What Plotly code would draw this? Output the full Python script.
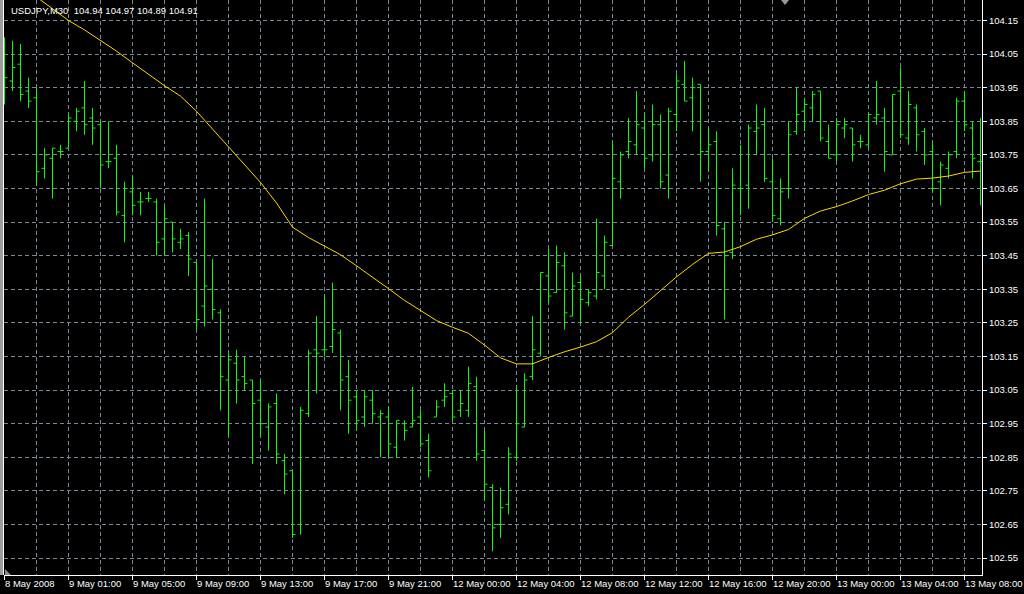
import plotly.graph_objects as go

# ---- data (USDJPY, M30 bars) ----
opens = [104.00, 103.97, 104.02, 103.94, 103.92, 103.71, 103.74, 103.76, 103.77, 103.85,
         103.89, 103.86, 103.84, 103.73, 103.74, 103.57, 103.64, 103.61, 103.62, 103.61,
         103.50, 103.55, 103.49, 103.51, 103.43, 103.30, 103.35, 103.28, 103.08, 103.13,
         103.09, 103.08, 103.02, 102.94, 103.01, 102.84, 102.81, 102.65, 102.98, 103.17,
         103.17, 103.18, 103.22, 103.09, 103.03, 102.97, 103.02, 102.97, 102.97, 102.88,
         102.95, 102.94, 102.97, 102.90, 102.97, 103.02, 103.04, 102.99, 102.99, 103.06,
         102.87, 102.76, 102.65, 102.71, 102.85, 102.94, 103.09, 103.16, 103.39, 103.34,
         103.42, 103.27, 103.37, 103.31, 103.33, 103.39, 103.48, 103.67, 103.76, 103.78,
         103.83, 103.75, 103.84, 103.69, 103.87, 103.96, 103.92, 103.96, 103.76, 103.79,
         103.53, 103.46, 103.65, 103.66, 103.82, 103.84, 103.67, 103.56, 103.65, 103.82,
         103.88, 103.89, 103.94, 103.79, 103.75, 103.83, 103.83, 103.79, 103.78, 103.86,
         103.86, 103.75, 103.94, 103.80, 103.89, 103.82, 103.76, 103.67, 103.71, 103.76,
         103.91, 103.83, 103.73]
highs = [104.10, 104.09, 104.08, 103.98, 103.95, 103.77, 103.77, 103.78, 103.87, 103.89,
         103.97, 103.89, 103.85, 103.85, 103.78, 103.67, 103.69, 103.64, 103.64, 103.62,
         103.60, 103.55, 103.53, 103.52, 103.43, 103.62, 103.44, 103.29, 103.16, 103.17,
         103.15, 103.08, 103.08, 103.01, 103.04, 102.86, 102.81, 103.00, 103.17, 103.27,
         103.33, 103.37, 103.23, 103.14, 103.05, 103.05, 103.05, 102.99, 103.00, 102.96,
         102.96, 103.06, 102.99, 102.92, 103.02, 103.07, 103.05, 103.05, 103.12, 103.09,
         102.93, 102.77, 102.76, 102.88, 103.06, 103.10, 103.27, 103.40, 103.47, 103.48,
         103.46, 103.40, 103.39, 103.35, 103.56, 103.51, 103.79, 103.76, 103.86, 103.94,
         103.87, 103.90, 103.87, 103.89, 103.99, 104.03, 103.98, 103.96, 103.83, 103.82,
         103.55, 103.71, 103.78, 103.84, 103.90, 103.89, 103.74, 103.68, 103.85, 103.95,
         103.92, 103.94, 103.94, 103.84, 103.86, 103.86, 103.83, 103.81, 103.87, 103.97,
         103.89, 103.93, 104.01, 103.94, 103.90, 103.83, 103.79, 103.73, 103.76, 103.92,
         103.94, 103.85, 103.86]
lows = [103.90, 103.94, 103.91, 103.89, 103.66, 103.68, 103.62, 103.74, 103.77, 103.82,
        103.81, 103.78, 103.65, 103.71, 103.57, 103.49, 103.57, 103.57, 103.61, 103.45,
        103.45, 103.46, 103.47, 103.39, 103.23, 103.24, 103.26, 102.99, 102.91, 103.01,
        103.05, 102.83, 102.91, 102.87, 102.83, 102.74, 102.61, 102.62, 102.97, 103.04,
        103.15, 103.16, 102.99, 102.92, 102.93, 102.94, 102.95, 102.85, 102.85, 102.85,
        102.90, 102.94, 102.88, 102.79, 102.97, 103.00, 102.96, 102.97, 102.97, 102.84,
        102.72, 102.57, 102.61, 102.68, 102.84, 102.94, 103.08, 103.15, 103.31, 103.34,
        103.23, 103.27, 103.25, 103.30, 103.32, 103.35, 103.48, 103.62, 103.74, 103.75,
        103.71, 103.73, 103.65, 103.62, 103.82, 103.91, 103.82, 103.67, 103.70, 103.51,
        103.26, 103.44, 103.57, 103.59, 103.75, 103.67, 103.55, 103.54, 103.62, 103.81,
        103.82, 103.85, 103.79, 103.74, 103.73, 103.80, 103.73, 103.77, 103.77, 103.84,
        103.70, 103.75, 103.80, 103.78, 103.76, 103.72, 103.64, 103.60, 103.68, 103.74,
        103.82, 103.68, 103.60]
closes = [103.98, 104.01, 103.93, 103.91, 103.70, 103.75, 103.77, 103.76, 103.86, 103.88,
          103.84, 103.83, 103.72, 103.73, 103.58, 103.65, 103.60, 103.61, 103.62, 103.49,
          103.56, 103.50, 103.50, 103.44, 103.26, 103.36, 103.29, 103.09, 103.14, 103.08,
          103.07, 103.01, 102.95, 103.00, 102.86, 102.80, 102.62, 102.99, 103.16, 103.16,
          103.17, 103.23, 103.08, 103.02, 102.96, 103.03, 102.98, 102.98, 102.89, 102.96,
          102.93, 102.96, 102.89, 102.81, 103.00, 103.03, 102.97, 103.01, 103.07, 102.86,
          102.77, 102.64, 102.70, 102.86, 102.95, 103.08, 103.17, 103.40, 103.33, 103.43,
          103.28, 103.36, 103.32, 103.34, 103.40, 103.49, 103.68, 103.75, 103.79, 103.84,
          103.74, 103.84, 103.67, 103.88, 103.97, 103.91, 103.95, 103.76, 103.78, 103.54,
          103.45, 103.66, 103.65, 103.83, 103.83, 103.68, 103.57, 103.64, 103.81, 103.87,
          103.90, 103.93, 103.80, 103.74, 103.84, 103.84, 103.78, 103.79, 103.87, 103.87,
          103.76, 103.93, 103.81, 103.90, 103.81, 103.75, 103.65, 103.72, 103.75, 103.91,
          103.84, 103.74, 103.73]
bar_index = list(range(len(opens)))

# moving average (read every second bar)
ma_index = list(range(4, 123, 2))
ma_values = [104.220, 104.184, 104.150, 104.122, 104.090, 104.059, 104.024, 103.990, 103.956, 103.925,
             103.880, 103.827, 103.774, 103.721, 103.668, 103.607, 103.535, 103.504, 103.479, 103.453,
             103.420, 103.387, 103.352, 103.317, 103.286, 103.257, 103.237, 103.219, 103.184, 103.146,
             103.128, 103.128, 103.147, 103.164, 103.178, 103.194, 103.221, 103.267, 103.305, 103.346,
             103.387, 103.424, 103.457, 103.461, 103.477, 103.499, 103.512, 103.528, 103.561, 103.583,
             103.596, 103.613, 103.632, 103.645, 103.664, 103.678, 103.681, 103.687, 103.698, 103.702]

# axis labels
time_tick_index = list(range(0, 121, 8))
time_tick_labels = ["8 May 2008", "9 May 01:00", "9 May 05:00", "9 May 09:00", "9 May 13:00",
                    "9 May 17:00", "9 May 21:00", "12 May 00:00", "12 May 04:00", "12 May 08:00",
                    "12 May 12:00", "12 May 16:00", "12 May 20:00", "13 May 00:00", "13 May 04:00",
                    "13 May 08:00"]
grid_minor_index = list(range(4, 121, 8))
price_ticks = [round(102.55 + 0.1 * k, 2) for k in range(17)]
price_labels = ["%.2f" % p for p in price_ticks]
title_text = "USDJPY,M30\u00a0\u00a0104.94 104.97 104.89 104.91"

GRID = "#778899"
FONT = "Liberation Sans"
FS = 9.5

fig = go.Figure()
fig.add_trace(go.Ohlc(
    x=bar_index, open=opens, high=highs, low=lows, close=closes,
    increasing=dict(line=dict(color="#00FF00", width=1)),
    decreasing=dict(line=dict(color="#00FF00", width=1)),
    tickwidth=0.375, hoverinfo="skip", showlegend=False))
fig.add_trace(go.Scatter(
    x=ma_index, y=ma_values, mode="lines",
    line=dict(color="#FFD700", width=1), hoverinfo="skip", showlegend=False))

L, R, T, B = 4, 42, 0, 19
PW = 1024 - L - R
PH = 594 - T - B

fig.update_layout(
    width=1024, height=594,
    margin=dict(l=L, r=R, t=T, b=B, pad=0),
    paper_bgcolor="black", plot_bgcolor="black",
    showlegend=False,
    font=dict(family=FONT, size=FS, color="white"),
    xaxis=dict(
        range=[-0.0625, 122.1875], rangeslider=dict(visible=False),
        tickmode="array", tickvals=time_tick_index, ticktext=[""] * len(time_tick_index),
        showticklabels=False,
        ticks="outside", ticklen=4, tickcolor="white", tickwidth=1,
        showgrid=True, gridcolor=GRID, griddash="4px,3px", gridwidth=1,
        minor=dict(tickmode="array", tickvals=grid_minor_index, showgrid=True,
                   gridcolor=GRID, griddash="4px,3px", gridwidth=1, ticks=""),
        showline=True, linecolor="white", linewidth=1, zeroline=False, fixedrange=True),
    yaxis=dict(
        side="right", range=[102.4997, 104.2110],
        tickmode="array", tickvals=price_ticks, ticktext=price_labels,
        ticks="outside", ticklen=4, tickcolor="white", tickwidth=1,
        tickfont=dict(family=FONT, size=FS, color="white"),
        showgrid=True, gridcolor=GRID, griddash="4px,3px", gridwidth=1,
        showline=True, linecolor="white", linewidth=1, zeroline=False, fixedrange=True),
)

annotations = []
for xi, txt in zip(time_tick_index, time_tick_labels):
    annotations.append(dict(x=xi, y=0, xref="x", yref="paper", text=txt, showarrow=False,
                            xanchor="left", yanchor="top", xshift=-2, yshift=-1,
                            font=dict(family=FONT, size=FS, color="white")))
annotations.append(dict(x=5 / PW, y=(PH - 11) / PH, xref="paper", yref="paper", text=title_text,
                        showarrow=False, xanchor="left", yanchor="middle",
                        font=dict(family=FONT, size=FS, color="white")))
fig.update_layout(annotations=annotations)

def px_x(p):
    return (p - L) / PW

def px_y(p):
    return (PH - p) / PH

shapes = [
    dict(type="rect", xref="paper", yref="paper", x0=px_x(0), x1=px_x(3), y0=px_y(PH), y1=px_y(0),
         fillcolor="#9c9c9c", line=dict(width=0), layer="above"),
    dict(type="line", xref="paper", yref="paper", x0=px_x(3.5), x1=px_x(3.5), y0=px_y(PH), y1=px_y(0),
         line=dict(color="white", width=1), layer="above"),
    dict(type="path", xref="paper", yref="paper",
         path="M %f %f L %f %f L %f %f Z" % (px_x(5), px_y(569), px_x(5), px_y(575), px_x(11), px_y(575)),
         fillcolor="#8a8a8a", line=dict(width=0), layer="above"),
    dict(type="path", xref="paper", yref="paper",
         path="M %f %f L %f %f L %f %f Z" % (px_x(781), px_y(0), px_x(789), px_y(0), px_x(785), px_y(5)),
         fillcolor="#9a9a9a", line=dict(width=0), layer="above"),
]
fig.update_layout(shapes=shapes)

fig.write_html(
    "out.html",
    config={"displayModeBar": False, "staticPlot": True},
    post_script="document.body.style.margin='0';document.body.style.background='black';"
                "document.documentElement.style.overflow='hidden';",
)
